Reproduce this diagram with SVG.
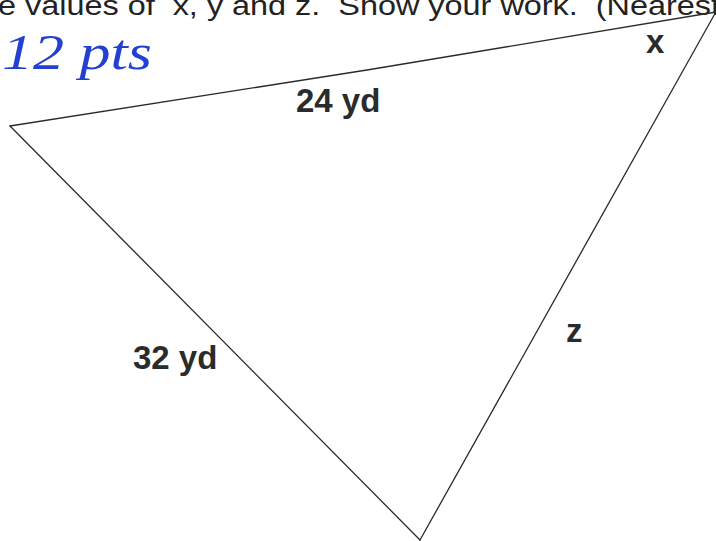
<svg xmlns="http://www.w3.org/2000/svg" width="716" height="541" viewBox="0 0 716 541">
<style>
.lbl{font-family:"Liberation Sans",Arial,sans-serif;font-weight:bold;font-size:33px;fill:#2b2b2b}
.edge{stroke:#2a2a2a;stroke-width:1.3;fill:none;stroke-linecap:round}
</style>
<rect width="716" height="541" fill="#ffffff"/>
<text x="-2" y="15" font-family="Liberation Sans, Arial, sans-serif" font-size="28" fill="#222" textLength="722" lengthAdjust="spacingAndGlyphs" xml:space="preserve">e values of  x, y and z.  Show your work.  (Nearest</text>
<text x="2" y="69" font-family="Liberation Serif, serif" font-style="italic" font-size="50" fill="#2340d0" textLength="150" lengthAdjust="spacingAndGlyphs">12 pts</text>
<g id="connectors">
<polyline class="edge" points="10,126 367,70 716,12"/>
<line class="edge" x1="717" y1="10" x2="420" y2="540"/>
<line class="edge" x1="10" y1="126" x2="420" y2="540"/>
</g>
<g id="label-24"><text class="lbl" x="296" y="112">24 yd</text></g>
<g id="label-32"><text class="lbl" x="133" y="369">32 yd</text></g>
<g id="label-x"><text class="lbl" x="646" y="53">x</text></g>
<g id="label-z"><text class="lbl" x="566" y="342">z</text></g>
</svg>
